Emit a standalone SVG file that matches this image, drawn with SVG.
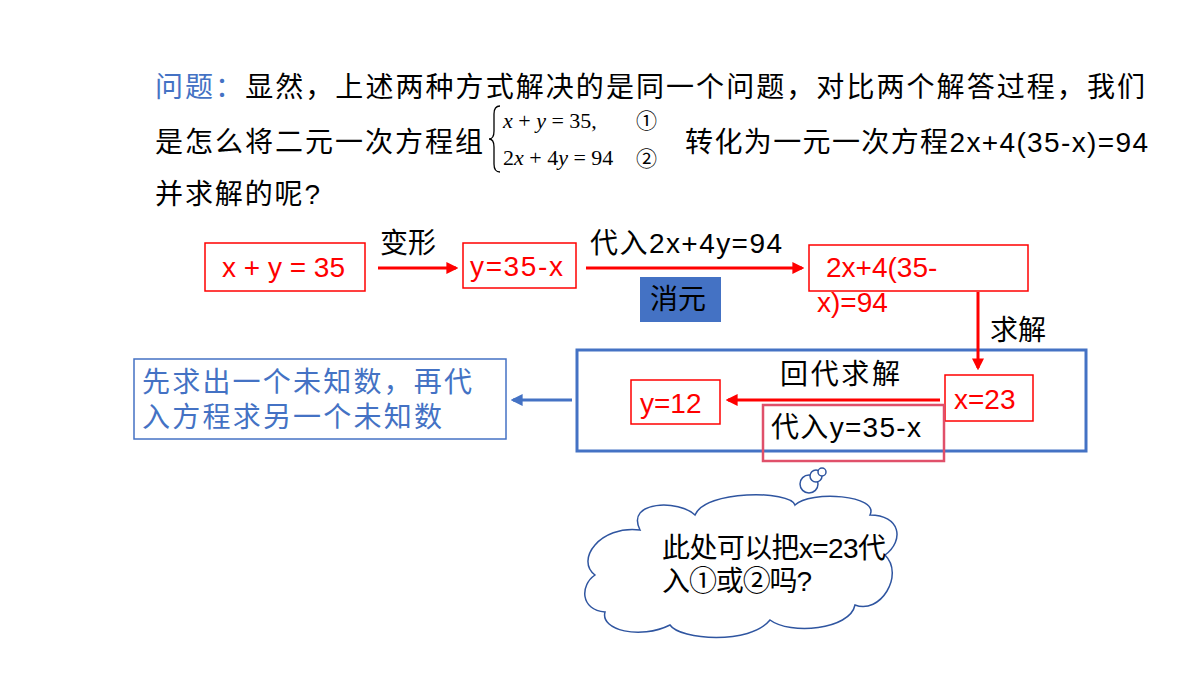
<svg xmlns="http://www.w3.org/2000/svg" width="1200" height="675" viewBox="0 0 1200 675">
<style>
text{font-family:"Liberation Sans","Noto Sans CJK SC",sans-serif;font-size:28px;fill:#000}
.r{fill:#f00}.b{fill:#4472c4}
.rb{fill:#fff;stroke:#f00;stroke-width:1.5}
.m{font-family:"Liberation Serif",serif;font-style:italic;font-size:22px}
.n{font-style:normal}
</style>
<defs>
<marker id="ar" viewBox="0 0 10 10" refX="8" refY="5" markerWidth="4" markerHeight="4" orient="auto"><path d="M0,0L10,5L0,10z" fill="#f00"/></marker>
<marker id="ab" viewBox="0 0 10 10" refX="8" refY="5" markerWidth="4" markerHeight="4" orient="auto"><path d="M0,0L10,5L0,10z" fill="#4472c4"/></marker>
</defs>
<g id="question">
<text x="155" y="97" textLength="990"><tspan class="b">问题：</tspan>显然，上述两种方式解决的是同一个问题，对比两个解答过程，我们</text>
<text x="155" y="152" textLength="328">是怎么将二元一次方程组</text>
<path d="M500,106 q-6,0 -6,8 v17 q0,8 -5,8 q5,0 5,8 v17 q0,8 6,8" fill="none" stroke="#000" stroke-width="1.3"/>
<text class="m" x="503" y="128">x<tspan class="n"> + </tspan>y<tspan class="n"> = 35,</tspan></text>
<text x="636" y="128" style="font-size:21px">①</text>
<text class="m" x="503" y="165"><tspan class="n">2</tspan>x<tspan class="n"> + 4</tspan>y<tspan class="n"> = 94</tspan></text>
<text x="636" y="166" style="font-size:21px">②</text>
<text x="685" y="152" textLength="463">转化为一元一次方程2x+4(35-x)=94</text>
<text x="155" y="204" textLength="165">并求解的呢?</text>
</g>
<g id="n1"><rect class="rb" x="205" y="243" width="160" height="48"/><text class="r" x="222" y="277" textLength="123">x + y = 35</text></g>
<g id="n2"><rect class="rb" x="463" y="243" width="113" height="45"/><text class="r" x="470" y="276" textLength="93">y=35-x</text></g>
<g id="n3"><rect class="rb" x="809" y="245" width="219" height="46"/><text class="r" x="826" y="277">2x+4(35-</text><text class="r" x="817" y="312">x)=94</text></g>
<g id="xiaoyuan"><rect x="640" y="277" width="81" height="45" fill="#4472c4"/><text x="650" y="309">消元</text></g>
<g id="big"><rect x="577" y="350" width="509" height="101" fill="none" stroke="#4472c4" stroke-width="3"/></g>
<g id="n4"><rect class="rb" x="945" y="375" width="88" height="46"/><text class="r" x="954" y="409">x=23</text></g>
<g id="n5"><rect class="rb" x="631" y="380" width="89" height="44"/><text class="r" x="640" y="413">y=12</text></g>
<g id="n6"><rect x="763" y="405" width="181" height="56" fill="none" stroke="#e0506a" stroke-width="2.5"/><text x="771" y="437" textLength="150">代入y=35-x</text></g>
<g id="n7"><rect x="134" y="359" width="372" height="80" fill="#fff" stroke="#4472c4" stroke-width="1.5"/><text class="b" x="142" y="392" textLength="330">先求出一个未知数，再代</text><text class="b" x="142" y="427" textLength="300">入方程求另一个未知数</text></g>
<g id="connectors" fill="none" stroke-width="3">
<path d="M378,268H456" stroke="#f00" marker-end="url(#ar)"/>
<path d="M586,268H802" stroke="#f00" marker-end="url(#ar)"/>
<path d="M978,292V368" stroke="#f00" marker-end="url(#ar)"/>
<path d="M940,400H728" stroke="#f00" marker-end="url(#ar)"/>
<path d="M572,400H513" stroke="#4472c4" marker-end="url(#ab)"/>
</g>
<g id="labels">
<text x="380" y="253">变形</text>
<text x="590" y="253" textLength="192">代入2x+4y=94</text>
<text x="990" y="340">求解</text>
<text x="780" y="384" textLength="120">回代求解</text>
</g>
<g id="cloud" fill="#fff" stroke="#2f55a0" stroke-width="1.5">
<path d="M640,530 C625,500 680,500 695,515 C705,490 790,490 795,505 C810,490 880,495 870,515 C900,515 905,540 885,555 C905,575 880,615 855,605 C850,630 790,635 770,620 C750,645 680,640 670,625 C640,640 600,630 605,612 C580,610 580,585 595,575 C575,560 600,525 640,530 Z"/>
<circle cx="809" cy="484" r="9"/><circle cx="816" cy="476" r="6"/><circle cx="822" cy="472" r="4"/>
<text x="662" y="558" textLength="224" style="stroke:none;fill:#000">此处可以把x=23代</text>
<text x="662" y="591" textLength="150" style="stroke:none;fill:#000">入①或②吗?</text>
</g>
</svg>
